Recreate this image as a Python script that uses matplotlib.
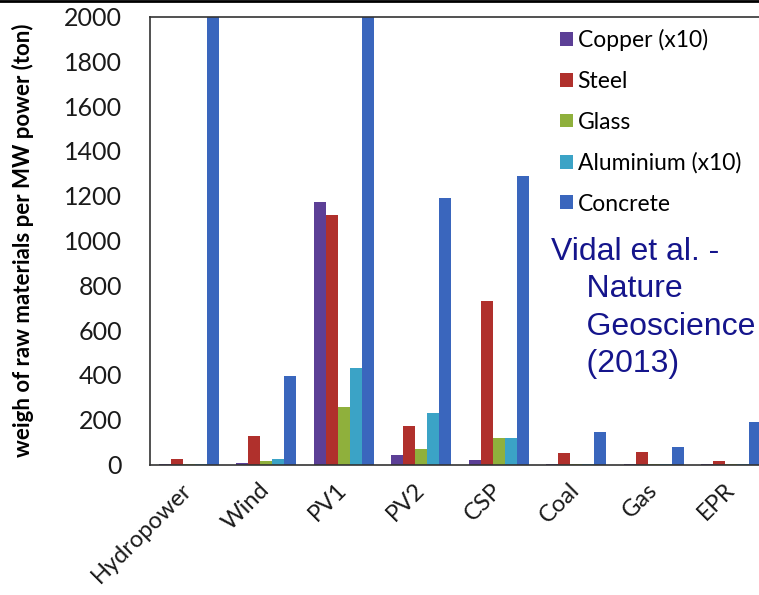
import numpy as np
import matplotlib.pyplot as plt
from matplotlib.lines import Line2D

categories = ['Hydropower', 'Wind', 'PV1', 'PV2', 'CSP', 'Coal', 'Gas', 'EPR']
materials = ['Copper (x10)', 'Steel', 'Glass', 'Aluminium (x10)', 'Concrete']

copper = [2, 6, 1170, 42, 20, 2, 2, 3]
steel = [24, 128, 1115, 170, 728, 50, 56, 16]
glass = [2, 15, 258, 68, 118, 1, 1, 2]
aluminium = [3, 24, 430, 230, 118, 2, 2, 3]
concrete = [2600, 395, 2600, 1190, 1290, 145, 78, 190]

colors = ['#5c3f96', '#b0302c', '#8fb03c', '#3ba3c6', '#3a66bd']


def main():
    fig = plt.figure(figsize=(7.59, 5.95), dpi=100)
    ax = fig.add_axes([150 / 759, 1 - 464.5 / 595, 609 / 759, (464.5 - 16.5) / 595])

    x = np.arange(len(categories))
    width = 0.155
    series = [copper, steel, glass, aluminium, concrete]
    for i, (vals, label, col) in enumerate(zip(series, materials, colors)):
        ax.bar(x + (i - 2) * width, vals, width, color=col, label=label)

    ax.set_xlim(-0.5, -0.5 + 609 / 77.5)
    ax.set_ylim(0, 2000)
    ax.set_yticks(range(0, 2001, 200))
    ax.set_xticks(x)
    ax.set_xticklabels(categories, rotation=45, ha='right', va='center',
                       rotation_mode='anchor', family='Lato', fontsize=17)
    for lab in ax.get_yticklabels():
        lab.set_family('Lato')
        lab.set_fontsize(18)
    ax.tick_params(axis='both', length=0, colors='#1a1a1a')
    ax.tick_params(axis='y', pad=20)
    ax.tick_params(axis='x', pad=16)

    ax.spines['right'].set_visible(False)
    for s in ['left', 'bottom', 'top']:
        ax.spines[s].set_color('#333333')
        ax.spines[s].set_linewidth(1.2)

    ax.set_ylabel('weigh of raw materials per MW power (ton)', family='Lato',
                  fontweight='bold', fontsize=16)
    ax.yaxis.set_label_coords(-0.19, 0.5)

    ax.legend(loc='upper left', bbox_to_anchor=(0.64, 1.018), frameon=False,
              prop={'family': 'Lato', 'size': 16.5}, handlelength=0.55,
              handleheight=0.55, handletextpad=0.2, labelspacing=0.86)

    fig.text(551 / 759, 1 - 237 / 595,
             'Vidal et al. -\n    Nature\n    Geoscience\n    (2013)',
             family='Liberation Sans', fontsize=23, color='#15158c',
             va='top', ha='left', linespacing=1.32)

    fig.add_artist(Line2D([0, 1], [0.999, 0.999], color='black', linewidth=2))

    plt.savefig('out.png', dpi=100)


if __name__ == "__main__":
    main()
